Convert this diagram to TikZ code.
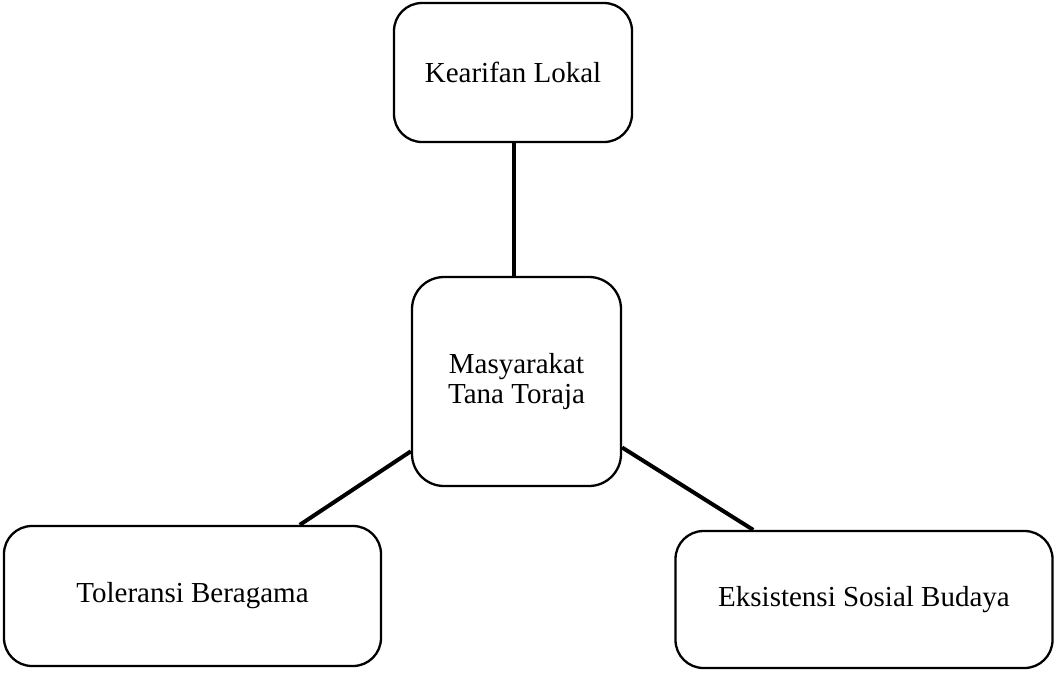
\documentclass[tikz,border=0pt]{standalone}
\usepackage{fontspec}
\setmainfont{Liberation Serif}
\begin{document}
\begin{tikzpicture}[x=1pt,y=-1pt,
  box/.style={draw=black,line width=2.3pt,rounded corners=28pt,fill=white,align=center,
    inner sep=0pt,font=\fontsize{29}{29.5}\selectfont},
  conn/.style={draw=black,line width=4pt}]
\useasboundingbox (0,0) rectangle (1054,675);
\node[box,minimum width=238pt,minimum height=139pt] (K) at (513,72.5) {Kearifan Lokal};
\node[box,minimum width=209pt,minimum height=209pt,rounded corners=32pt] (M) at (516.5,381.5) {Masyarakat\\Tana Toraja};
\node[box,minimum width=377pt,minimum height=140pt] (T) at (192.5,596) {Toleransi Beragama};
\node[box,minimum width=377pt,minimum height=137pt] (E) at (864,599.5) {Eksistensi Sosial Budaya};
\begin{scope}[on background layer/.try]
\end{scope}
\draw[conn] ([xshift=1pt]K.south) -- ([xshift=1pt]K.south |- M.north);
\draw[conn] (M) -- (T);
\draw[conn] (M) -- (E);
\end{tikzpicture}
\end{document}
